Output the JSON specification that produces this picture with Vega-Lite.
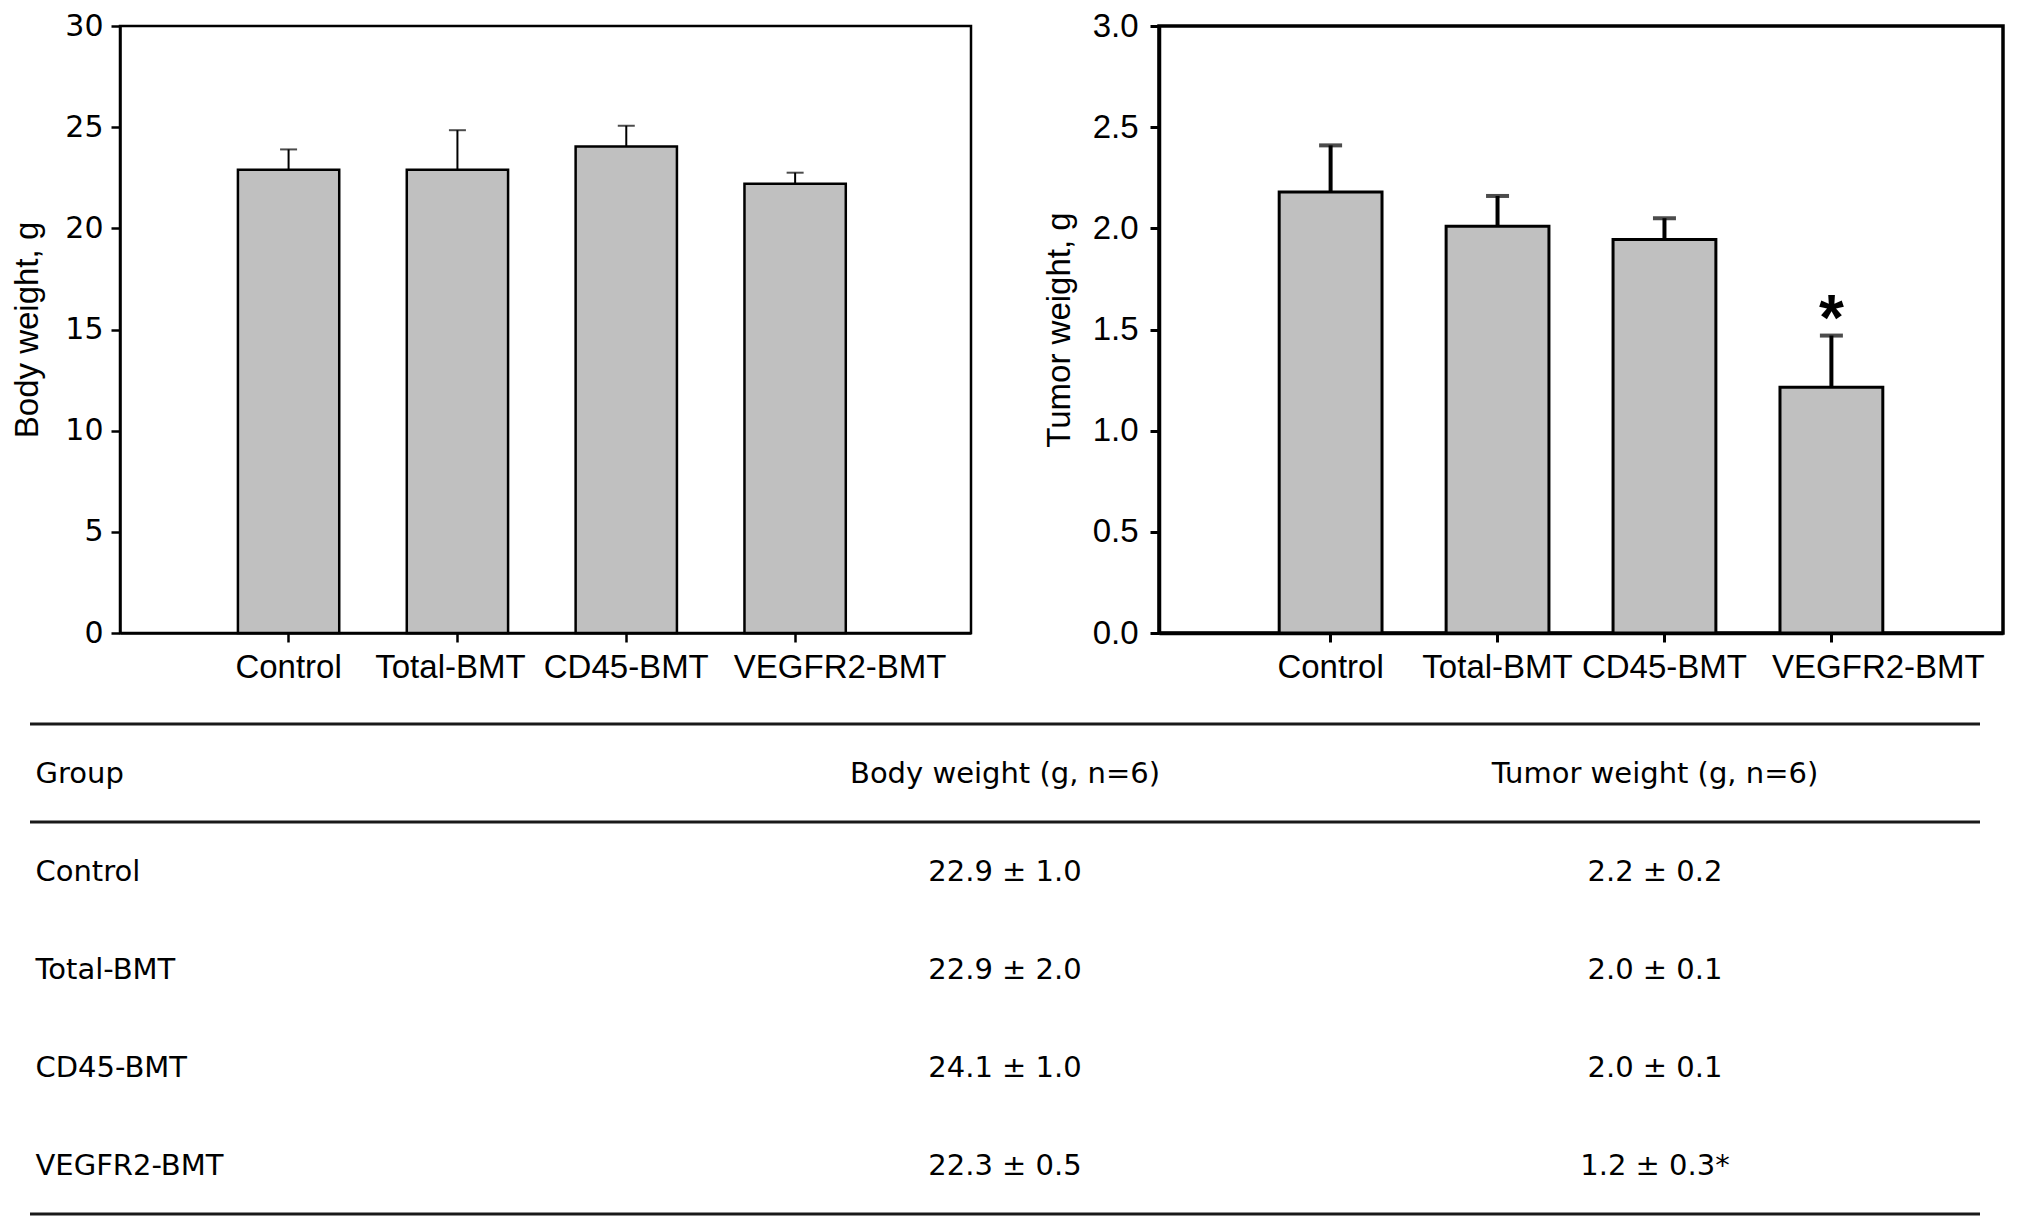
{
  "$schema": "https://vega.github.io/schema/vega-lite/v6.json",
  "padding": {"left": 10, "top": 8, "right": 5, "bottom": 5},
  "background": "white",
  "config": {"font": "Liberation Sans", "axis": {"grid": false}},
  "datasets": {
    "body": [
      {"group": "Control", "mean": 22.9, "upper": 23.9},
      {"group": "Total-BMT", "mean": 22.9, "upper": 24.85},
      {"group": "CD45-BMT", "mean": 24.05, "upper": 25.07},
      {"group": "VEGFR2-BMT", "mean": 22.2, "upper": 22.75}
    ],
    "tumor": [
      {"group": "Control", "mean": 2.18, "upper": 2.41, "sig": ""},
      {"group": "Total-BMT", "mean": 2.01, "upper": 2.16, "sig": ""},
      {"group": "CD45-BMT", "mean": 1.945, "upper": 2.05, "sig": ""},
      {"group": "VEGFR2-BMT", "mean": 1.215, "upper": 1.47, "sig": "*"}
    ],
    "table": [
      {"row": "Group", "col": "Group", "text": "Group"},
      {"row": "Group", "col": "Body", "text": "Body weight (g, n=6)"},
      {"row": "Group", "col": "Tumor", "text": "Tumor weight (g, n=6)"},
      {"row": "Control", "col": "Group", "text": "Control"},
      {"row": "Control", "col": "Body", "text": "22.9 ± 1.0"},
      {"row": "Control", "col": "Tumor", "text": "2.2 ± 0.2"},
      {"row": "Total-BMT", "col": "Group", "text": "Total-BMT"},
      {"row": "Total-BMT", "col": "Body", "text": "22.9 ± 2.0"},
      {"row": "Total-BMT", "col": "Tumor", "text": "2.0 ± 0.1"},
      {"row": "CD45-BMT", "col": "Group", "text": "CD45-BMT"},
      {"row": "CD45-BMT", "col": "Body", "text": "24.1 ± 1.0"},
      {"row": "CD45-BMT", "col": "Tumor", "text": "2.0 ± 0.1"},
      {"row": "VEGFR2-BMT", "col": "Group", "text": "VEGFR2-BMT"},
      {"row": "VEGFR2-BMT", "col": "Body", "text": "22.3 ± 0.5"},
      {"row": "VEGFR2-BMT", "col": "Tumor", "text": "1.2 ± 0.3*"}
    ],
    "lines_top": [{"row": "Group"}, {"row": "Control"}],
    "lines_bottom": [{"row": "VEGFR2-BMT"}]
  },
  "spacing": 36,
  "vconcat": [
    {
      "spacing": 68,
      "hconcat": [
        {
          "width": 851,
          "height": 607,
          "view": {"stroke": "black", "strokeWidth": 2.5},
          "data": {"name": "body"},
          "encoding": {
            "x": {
              "field": "group", "type": "nominal", "sort": null,
              "scale": {"type": "band", "paddingInner": 0.4, "paddingOuter": 0.72, "align": 0.485},
              "axis": {
                "title": null, "labelAngle": 0, "labelFont": "Liberation Sans", "labelFontSize": 33,
                "labelColor": "black", "labelPadding": 9, "labelOverlap": false, "labelBound": false, "labelLimit": 0,
                "tickSize": 9, "tickColor": "black", "tickWidth": 2.5,
                "domainColor": "black", "domainWidth": 2.5,
                "labelOffset": {"condition": [{"test": "datum.value === 'Total-BMT'", "value": -7}, {"test": "datum.value === 'VEGFR2-BMT'", "value": 45}], "value": 0}
              }
            }
          },
          "layer": [
            {
              "mark": {"type": "bar", "fill": "#c0c0c0", "stroke": "black", "strokeWidth": 2.5},
              "encoding": {
                "y": {
                  "field": "mean", "type": "quantitative", "title": "Body weight, g",
                  "scale": {"domain": [0, 30], "nice": false},
                  "axis": {
                    "title": "Body weight, g", "values": [0, 5, 10, 15, 20, 25, 30],
                    "labelFont": "DejaVu Sans", "labelFontSize": 30, "labelColor": "black", "labelPadding": 8,
                    "tickSize": 9, "tickColor": "black", "tickWidth": 2.5,
                    "domainColor": "black", "domainWidth": 2.5,
                    "titleFont": "Liberation Sans", "titleFontSize": 33, "titleFontWeight": "normal",
                    "titleColor": "black", "titlePadding": 20
                  }
                }
              }
            },
            {
              "mark": {"type": "rule", "color": "black", "strokeWidth": 2},
              "encoding": {
                "y": {"field": "mean", "type": "quantitative", "title": "Body weight, g"},
                "y2": {"field": "upper"}
              }
            },
            {
              "mark": {"type": "tick", "color": "black", "size": 17, "thickness": 2},
              "encoding": {
                "y": {"field": "upper", "type": "quantitative", "title": "Body weight, g"}
              }
            }
          ]
        },
        {
          "width": 844,
          "height": 607,
          "view": {"stroke": "black", "strokeWidth": 3.5},
          "data": {"name": "tumor"},
          "encoding": {
            "x": {
              "field": "group", "type": "nominal", "sort": null,
              "scale": {"type": "band", "paddingInner": 0.384, "paddingOuter": 0.72},
              "axis": {
                "title": null, "labelAngle": 0, "labelFont": "Liberation Sans", "labelFontSize": 33,
                "labelColor": "black", "labelPadding": 9, "labelOverlap": false, "labelBound": false, "labelLimit": 0,
                "tickSize": 9, "tickColor": "black", "tickWidth": 3,
                "domainColor": "black", "domainWidth": 3.5,
                "labelOffset": {"condition": [{"test": "datum.value === 'VEGFR2-BMT'", "value": 47}], "value": 0}
              }
            }
          },
          "layer": [
            {
              "mark": {"type": "bar", "fill": "#c0c0c0", "stroke": "black", "strokeWidth": 3},
              "encoding": {
                "y": {
                  "field": "mean", "type": "quantitative", "title": "Tumor weight, g",
                  "scale": {"domain": [0, 3], "nice": false},
                  "axis": {
                    "title": "Tumor weight, g", "values": [0, 0.5, 1, 1.5, 2, 2.5, 3], "format": ".1f",
                    "labelFont": "Liberation Sans", "labelFontSize": 33, "labelColor": "black", "labelPadding": 12,
                    "tickSize": 9, "tickColor": "black", "tickWidth": 3,
                    "domainColor": "black", "domainWidth": 3.5,
                    "titleFont": "Liberation Sans", "titleFontSize": 33, "titleFontWeight": "normal",
                    "titleColor": "black", "titlePadding": 16
                  }
                }
              }
            },
            {
              "mark": {"type": "rule", "color": "black", "strokeWidth": 4},
              "encoding": {
                "y": {"field": "mean", "type": "quantitative", "title": "Tumor weight, g"},
                "y2": {"field": "upper"}
              }
            },
            {
              "mark": {"type": "tick", "color": "black", "size": 23, "thickness": 4},
              "encoding": {
                "y": {"field": "upper", "type": "quantitative", "title": "Tumor weight, g"}
              }
            },
            {
              "transform": [{"filter": "datum.sig !== ''"}],
              "mark": {"type": "text", "font": "Liberation Sans", "fontSize": 64, "fontWeight": "bold", "color": "black", "baseline": "alphabetic", "dy": 4},
              "encoding": {
                "y": {"field": "upper", "type": "quantitative", "title": "Tumor weight, g"},
                "text": {"field": "sig"}
              }
            }
          ]
        }
      ]
    },
    {
      "width": 1860,
      "height": 490,
      "view": {"stroke": null},
      "encoding": {
        "y": {
          "field": "row", "type": "nominal", "sort": null,
          "scale": {"type": "band", "domain": ["Group", "Control", "Total-BMT", "CD45-BMT", "VEGFR2-BMT"], "paddingInner": 0, "paddingOuter": 0},
          "axis": null
        }
      },
      "layer": [
        {
          "data": {"name": "lines_top"},
          "mark": {"type": "rule", "color": "#1a1a1a", "strokeWidth": 3},
          "encoding": {
            "x": {"datum": "start", "type": "nominal", "scale": {"type": "point", "domain": ["start", "end"], "range": [-90, 1860], "padding": 0}, "axis": null},
            "x2": {"datum": "end"},
            "y": {"field": "row", "type": "nominal", "bandPosition": 0}
          }
        },
        {
          "data": {"name": "lines_bottom"},
          "mark": {"type": "rule", "color": "#1a1a1a", "strokeWidth": 3},
          "encoding": {
            "x": {"datum": "start", "type": "nominal", "scale": {"type": "point", "domain": ["start", "end"], "range": [-90, 1860], "padding": 0}, "axis": null},
            "x2": {"datum": "end"},
            "y": {"field": "row", "type": "nominal", "bandPosition": 1}
          }
        },
        {
          "data": {"name": "table"},
          "transform": [{"filter": "datum.col === 'Group'"}],
          "mark": {"type": "text", "font": "DejaVu Sans", "fontSize": 29, "color": "black", "align": "left", "baseline": "middle", "dx": 5.5, "dy": 1},
          "encoding": {
            "x": {"field": "col", "type": "nominal", "scale": {"type": "band", "domain": ["Group", "Body", "Tumor"], "range": [-90, 1860], "paddingInner": 0, "paddingOuter": 0}, "axis": null, "bandPosition": 0},
            "y": {"field": "row", "type": "nominal", "bandPosition": 0.5},
            "text": {"field": "text"}
          }
        },
        {
          "data": {"name": "table"},
          "transform": [{"filter": "datum.col !== 'Group'"}],
          "mark": {"type": "text", "font": "DejaVu Sans", "fontSize": 29, "color": "black", "align": "center", "baseline": "middle", "dy": 1},
          "encoding": {
            "x": {"field": "col", "type": "nominal", "scale": {"type": "band", "domain": ["Group", "Body", "Tumor"], "range": [-90, 1860], "paddingInner": 0, "paddingOuter": 0}, "axis": null, "bandPosition": 0.5},
            "y": {"field": "row", "type": "nominal", "bandPosition": 0.5},
            "text": {"field": "text"}
          }
        }
      ],
      "resolve": {"scale": {"x": "independent"}}
    }
  ]
}
